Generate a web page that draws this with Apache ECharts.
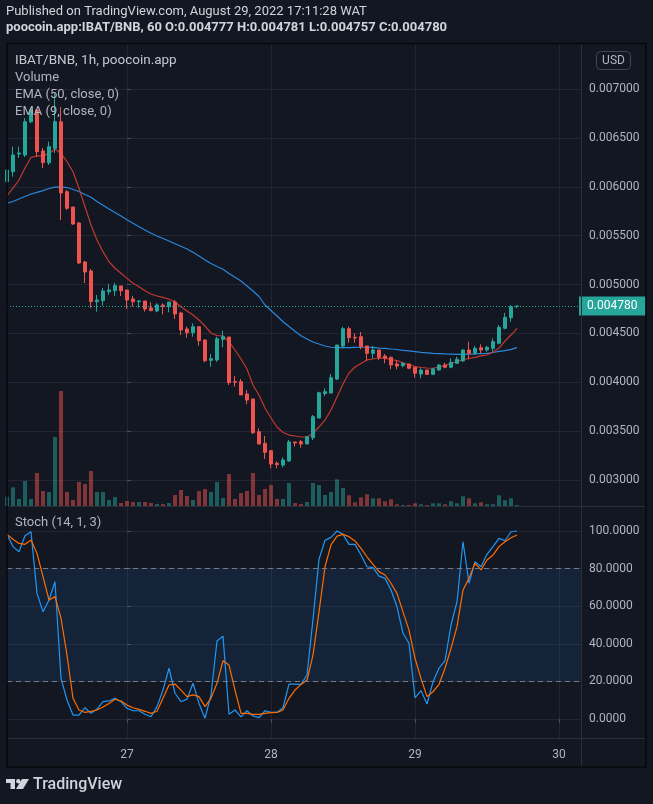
<!DOCTYPE html>
<html><head><meta charset="utf-8">
<script src="https://cdn.jsdelivr.net/npm/echarts@6/dist/echarts.min.js"></script>
<style>html,body{margin:0;padding:0;background:#131722;}#c{width:653px;height:804px;}</style>
</head><body><div id="c"></div>
<script>
// Hours are counted from 2022-08-27 00:00; the first visible candle is 2022-08-26 04:00
const firstHour = -20;
const dayTicks = [0, 24, 48, 72];          // 27, 28, 29, 30 August
const dayLabels = ['27', '28', '29', '30'];
const priceTicks = [0.003, 0.0035, 0.004, 0.0045, 0.005, 0.0055, 0.006, 0.0065, 0.007];
const stochTicks = [0, 20, 40, 60, 80, 100];

const opens = [0.006052,0.006154,0.006335,0.006325,0.006665,0.006785,0.006366,0.006246,0.006393,0.006665,
0.005949,0.005793,0.005629,0.005230,0.005138,0.004824,0.004834,0.004926,0.004937,0.004985,
0.004944,0.004852,0.004824,0.004831,0.004760,0.004729,0.004790,0.004773,0.004821,0.004708,
0.004545,0.004507,0.004568,0.004432,0.004224,0.004228,0.004439,0.004463,0.004006,0.004006,
0.003880,0.003829,0.003494,0.003375,0.003300,0.003171,0.003153,0.003195,0.003389,0.003392,
0.003368,0.003433,0.003634,0.003883,0.003890,0.004033,0.004371,0.004548,0.004460,0.004466,
0.004371,0.004296,0.004330,0.004268,0.004255,0.004187,0.004169,0.004187,0.004153,0.004084,
0.004125,0.004081,0.004125,0.004177,0.004153,0.004194,0.004218,0.004330,0.004296,0.004353,
0.004330,0.004347,0.004399,0.004552,0.004660,0.004777];
const closes = [0.006171,0.006325,0.006345,0.006665,0.006785,0.006359,0.006246,0.006410,0.006665,0.005936,
0.005780,0.005619,0.005220,0.005128,0.004824,0.004841,0.004934,0.004944,0.004988,0.004937,
0.004841,0.004824,0.004831,0.004749,0.004732,0.004790,0.004773,0.004821,0.004698,0.004535,
0.004507,0.004568,0.004425,0.004220,0.004241,0.004445,0.004466,0.003995,0.004000,0.003870,
0.003818,0.003484,0.003368,0.003283,0.003164,0.003157,0.003205,0.003389,0.003379,0.003368,
0.003443,0.003648,0.003893,0.003903,0.004047,0.004381,0.004548,0.004456,0.004453,0.004364,
0.004296,0.004330,0.004255,0.004248,0.004177,0.004166,0.004194,0.004143,0.004092,0.004125,
0.004081,0.004136,0.004177,0.004153,0.004204,0.004235,0.004330,0.004296,0.004347,0.004330,
0.004358,0.004415,0.004562,0.004664,0.004773,0.004780];
const lows = [0.006040,0.006103,0.006294,0.006304,0.006652,0.006307,0.006192,0.006223,0.006345,0.005660,
0.005762,0.005609,0.005210,0.005015,0.004760,0.004722,0.004783,0.004893,0.004885,0.004882,
0.004749,0.004773,0.004763,0.004722,0.004732,0.004716,0.004695,0.004716,0.004647,0.004483,
0.004456,0.004466,0.004374,0.004204,0.004159,0.004210,0.004358,0.003972,0.003955,0.003870,
0.003774,0.003471,0.003368,0.003215,0.003120,0.003120,0.003130,0.003187,0.003341,0.003330,
0.003368,0.003409,0.003634,0.003859,0.003887,0.004023,0.004347,0.004405,0.004405,0.004337,
0.004220,0.004245,0.004228,0.004194,0.004133,0.004133,0.004153,0.004133,0.004047,0.004040,
0.004074,0.004074,0.004118,0.004143,0.004143,0.004187,0.004210,0.004235,0.004279,0.004296,
0.004313,0.004313,0.004388,0.004542,0.004620,0.004757];
const highs = [0.006180,0.006410,0.006410,0.006703,0.006806,0.006790,0.006396,0.006461,0.006949,0.006815,
0.005967,0.005793,0.005640,0.005240,0.005159,0.004893,0.004964,0.005005,0.005018,0.004985,
0.004944,0.004883,0.004841,0.004831,0.004818,0.004808,0.004808,0.004821,0.004841,0.004722,
0.004568,0.004603,0.004568,0.004442,0.004289,0.004466,0.004527,0.004463,0.004064,0.004033,
0.003921,0.003829,0.003529,0.003450,0.003300,0.003191,0.003232,0.003409,0.003389,0.003409,
0.003450,0.003665,0.003903,0.003938,0.004084,0.004381,0.004568,0.004568,0.004501,0.004514,
0.004371,0.004371,0.004330,0.004289,0.004261,0.004220,0.004210,0.004187,0.004153,0.004143,
0.004125,0.004143,0.004187,0.004200,0.004245,0.004261,0.004337,0.004415,0.004371,0.004388,
0.004371,0.004450,0.004586,0.004711,0.004790,0.004781];
const volumes = [9.3,18.7,7,25,7,33,15,14,69,115,
14,6,24,22,35,14,14,6,9,3,
5,4,4,4,3,2,2,3,11,16,
10,6,15,17,14,24,8,32,7,13,
15,33,11,17,21,7,7,23,3,2,
4,23,21,11,14,26.7,18,10.7,3.7,8.7,
11.7,7.7,7.7,4.7,6.7,1.7,1,1,2.7,1.7,
1,2.7,2.7,1.7,4.7,2.7,9.7,7.7,2.7,3.7,
1.7,1.7,10.7,5.7,7.7,1];
const ema50 = [0.005831,0.005849,0.005875,0.005900,0.005926,0.005943,0.005960,0.005982,0.005997,0.005999,
0.005992,0.005972,0.005951,0.005921,0.005892,0.005849,0.005810,0.005772,0.005737,0.005701,
0.005663,0.005626,0.005591,0.005558,0.005524,0.005496,0.005471,0.005445,0.005417,0.005391,
0.005363,0.005329,0.005292,0.005251,0.005215,0.005184,0.005156,0.005113,0.005074,0.005036,
0.004985,0.004934,0.004877,0.004790,0.004734,0.004678,0.004619,0.004570,0.004522,0.004475,
0.004442,0.004412,0.004391,0.004371,0.004358,0.004354,0.004354,0.004354,0.004356,0.004358,
0.004358,0.004356,0.004350,0.004347,0.004340,0.004335,0.004327,0.004320,0.004313,0.004306,
0.004301,0.004296,0.004293,0.004290,0.004288,0.004286,0.004286,0.004288,0.004290,0.004293,
0.004296,0.004304,0.004315,0.004323,0.004337,0.004354];
const ema9 = [0.005908,0.005987,0.006069,0.006192,0.006301,0.006315,0.006315,0.006342,0.006383,0.006342,
0.006256,0.006154,0.005984,0.005796,0.005609,0.005455,0.005336,0.005233,0.005166,0.005115,
0.005063,0.005012,0.004977,0.004937,0.004903,0.004882,0.004869,0.004849,0.004821,0.004773,
0.004729,0.004688,0.004637,0.004575,0.004504,0.004478,0.004473,0.004412,0.004330,0.004238,
0.004136,0.003972,0.003870,0.003737,0.003634,0.003542,0.003486,0.003460,0.003450,0.003440,
0.003440,0.003478,0.003542,0.003614,0.003716,0.003849,0.003982,0.004095,0.004156,0.004192,
0.004228,0.004238,0.004248,0.004245,0.004233,0.004222,0.004197,0.004182,0.004161,0.004151,
0.004146,0.004143,0.004156,0.004171,0.004192,0.004212,0.004230,0.004243,0.004255,0.004269,
0.004279,0.004309,0.004350,0.004422,0.004483,0.004552];
const stochK = [98.2,91.7,89,97.5,99.6,66.8,57,63.3,73,21.6,
10.1,2.1,2.1,6,3,5.3,9.2,9.6,11,9.2,
5.7,4.4,4.4,2.5,1.2,6.6,15.4,27,13.7,9.2,
10.6,19,8.3,0.4,12.8,41.5,44.1,2.5,4.8,1.1,
4.4,1.6,0.7,4.4,3.5,3.5,6,18.6,18.6,18.4,
23.4,53,85,95,96.6,100,98.2,92.9,92.9,87.2,
81,80.5,76,74.8,68.6,59.7,45.6,40.3,11.3,15.1,
8,19.8,27,31,50,62.4,94.3,72.2,83.7,81,
87.6,91.7,96.1,94.8,99.6,100];
const stochD = [98.2,95.6,93.4,92.9,95.2,88.1,75.7,63.3,65.1,53.6,
34,11,4.8,3.5,4.1,4.8,6.4,8.3,10.5,9.6,
7.4,6,5.1,4.1,3,4.1,11,18.1,18.6,15.4,
11.9,12.8,11.9,6.6,11,19,31,28.7,15.4,3,
3,2.5,2.5,3,3.4,3.5,4.8,11,15.4,18.4,
20.7,34,57,81,92.6,97.3,98.2,97,94.7,90.8,
86.3,82.3,78.4,76.6,72.2,66.8,57,47.3,32.3,21.6,
11.9,14.5,18.4,27,37.6,49.1,68.6,74.8,82.8,79.3,
84.6,87.2,91.7,94.3,96.4,97.9];

const UP = '#26a69a', DOWN = '#ef5350';
const hours = opens.map((_, i) => firstHour + i);
const candleData = hours.map((h, i) => [h, opens[i], closes[i], lows[i], highs[i]]);
const volData = hours.map((h, i) => ({
  value: [h, volumes[i]],
  itemStyle: { color: closes[i] >= opens[i] ? 'rgba(38,166,154,0.5)' : 'rgba(239,83,80,0.5)' }
}));
const pair = arr => hours.map((h, i) => [h, arr[i]]);
const lastClose = closes[closes.length - 1];

const FONT = 'Roboto, "Liberation Sans", sans-serif';
const AX = '#b2b5be', GRID = '#232632', SEP = '#2a2e39';

const chart = echarts.init(document.getElementById('c'), null, { renderer: 'canvas' });
const xCommon = {
  type: 'value', min: firstHour, max: firstHour + 574 / 6,
  axisLine: { show: false },
  axisTick: { customValues: dayTicks },
  splitLine: { show: true, lineStyle: { color: GRID, width: 1 } }
};
chart.setOption({
  backgroundColor: '#131722',
  animation: false,
  grid: [
    { left: 7, top: 44, width: 574, height: 462 },
    { left: 7, top: 506, width: 574, height: 232 }
  ],
  xAxis: [
    Object.assign({}, xCommon, { gridIndex: 0, axisLabel: { show: false, customValues: dayTicks },
      axisTick: { show: false, customValues: dayTicks } }),
    Object.assign({}, xCommon, { gridIndex: 1,
      axisTick: { show: true, customValues: dayTicks, length: 4, lineStyle: { color: '#4a4e59' } },
      axisLabel: { show: true, customValues: dayTicks, color: AX, fontSize: 12, fontFamily: FONT, margin: 11,
        formatter: v => dayLabels[dayTicks.indexOf(v)] } })
  ],
  yAxis: [
    { gridIndex: 0, type: 'value', position: 'right', min: 0.0027340, max: 0.0074604,
      axisLine: { show: false },
      axisTick: { show: true, customValues: priceTicks, length: 4, lineStyle: { color: '#4a4e59' } },
      axisLabel: { customValues: priceTicks, formatter: v => v.toFixed(6), color: AX, fontSize: 12, fontFamily: FONT, margin: 8 },
      splitLine: { show: true, lineStyle: { color: GRID } } },
    { gridIndex: 0, type: 'value', min: 0, max: 462, show: false, splitLine: { show: false } },
    { gridIndex: 1, type: 'value', position: 'right', min: -10.1, max: 113.3,
      axisLine: { show: false },
      axisTick: { show: true, customValues: stochTicks, length: 4, lineStyle: { color: '#4a4e59' } },
      axisLabel: { customValues: stochTicks, formatter: v => v.toFixed(4), color: AX, fontSize: 12, fontFamily: FONT, margin: 8 },
      splitLine: { show: true, lineStyle: { color: GRID } } }
  ],
  series: [
    { type: 'bar', name: 'Volume', xAxisIndex: 0, yAxisIndex: 1, data: volData, barWidth: 4, z: 1 },
    { type: 'line', name: 'EMA50', xAxisIndex: 0, yAxisIndex: 0, data: pair(ema50), symbol: 'none',
      lineStyle: { color: '#2a87dc', width: 1.2 }, z: 3,
      markLine: { silent: true, symbol: 'none', animation: false, precision: 6,
        lineStyle: { type: [1, 2], color: UP, width: 1 },
        label: { show: true, position: 'end', distance: -2, formatter: () => lastClose.toFixed(6),
          backgroundColor: UP, color: '#ffffff', fontSize: 12, fontFamily: FONT, padding: [4, 8, 3, 8] },
        data: [{ yAxis: lastClose }] } },
    { type: 'line', name: 'EMA9', xAxisIndex: 0, yAxisIndex: 0, data: pair(ema9), symbol: 'none',
      lineStyle: { color: '#c4392f', width: 1.2 }, z: 3 },
    { type: 'candlestick', name: 'IBAT/BNB', xAxisIndex: 0, yAxisIndex: 0, data: candleData,
      encode: { x: 0, y: [1, 2, 3, 4] }, barWidth: 3.4, z: 4,
      itemStyle: { color: UP, color0: DOWN, borderColor: UP, borderColor0: DOWN, borderWidth: 1 } },
    { type: 'line', name: '%K', xAxisIndex: 1, yAxisIndex: 2, data: pair(stochK), symbol: 'none',
      lineStyle: { color: '#2196f3', width: 1.2 }, z: 3,
      markArea: { silent: true, itemStyle: { color: 'rgba(33,150,243,0.1)' }, data: [[{ yAxis: 20 }, { yAxis: 80 }]] },
      markLine: { silent: true, symbol: 'none', label: { show: false },
        lineStyle: { type: [5, 4], color: '#787b86', width: 1 }, data: [{ yAxis: 80 }, { yAxis: 20 }] } },
    { type: 'line', name: '%D', xAxisIndex: 1, yAxisIndex: 2, data: pair(stochD), symbol: 'none',
      lineStyle: { color: '#ff6d00', width: 1.2 }, z: 3 }
  ],
  graphic: [
    { type: 'text', left: 6, top: 5, style: { text: 'Published on TradingView.com, August 29, 2022 17:11:28 WAT', fill: '#d1d4dc', font: '13px ' + FONT } },
    { type: 'text', left: 6, top: 21, style: { text: 'poocoin.app:IBAT/BNB, 60 O:0.004777 H:0.004781 L:0.004757 C:0.004780', fill: '#d1d4dc', font: 'bold 13px ' + FONT } },
    { type: 'rect', shape: { x: 7, y: 43.5, width: 639, height: 723.5 }, style: { fill: 'none', stroke: '#07080c', lineWidth: 1.5 }, z: 100, silent: true },
    { type: 'line', shape: { x1: 581.5, y1: 44, x2: 581.5, y2: 767 }, style: { stroke: SEP, lineWidth: 1 }, z: 90 },
    { type: 'line', shape: { x1: 7, y1: 506.5, x2: 646, y2: 506.5 }, style: { stroke: SEP, lineWidth: 1 }, z: 90 },
    { type: 'line', shape: { x1: 7, y1: 738.5, x2: 646, y2: 738.5 }, style: { stroke: SEP, lineWidth: 1 }, z: 90 },
    { type: 'rect', shape: { x: 596.5, y: 51.5, width: 34, height: 18, r: 4 }, style: { fill: '#131722', stroke: '#434651', lineWidth: 1 }, z: 90 },
    { type: 'text', x: 613.5, y: 60.5, style: { text: 'USD', fill: AX, font: '12px ' + FONT, textAlign: 'center', textVerticalAlign: 'middle' }, z: 91 },
    { type: 'text', x: 15, y: 61, style: { text: 'IBAT/BNB, 1h, poocoin.app', fill: '#c3c6cf', font: '13.5px ' + FONT, textVerticalAlign: 'middle' }, z: 91 },
    { type: 'text', x: 15, y: 78, style: { text: 'Volume', fill: AX, font: '13px ' + FONT, textVerticalAlign: 'middle' }, z: 91 },
    { type: 'text', x: 15, y: 95, style: { text: 'EMA (50, close, 0)', fill: AX, font: '13px ' + FONT, textVerticalAlign: 'middle' }, z: 91 },
    { type: 'text', x: 15, y: 112, style: { text: 'EMA (9, close, 0)', fill: AX, font: '13px ' + FONT, textVerticalAlign: 'middle' }, z: 91 },
    { type: 'text', x: 15, y: 523, style: { text: 'Stoch (14, 1, 3)', fill: AX, font: '13px ' + FONT, textVerticalAlign: 'middle' }, z: 91 },
    { type: 'polygon', shape: { points: [[6, 779], [15, 779], [15, 789], [10.5, 789], [10.5, 783], [6, 783]] }, style: { fill: '#d1d4dc' }, z: 91 },
    { type: 'circle', shape: { cx: 18.3, cy: 781.2, r: 2.2 }, style: { fill: '#d1d4dc' }, z: 91 },
    { type: 'polygon', shape: { points: [[22, 779], [29, 779], [23, 789], [16, 789]] }, style: { fill: '#d1d4dc' }, z: 91 },
    { type: 'text', x: 33, y: 784.5, style: { text: 'TradingView', fill: '#d1d4dc', font: '500 16px ' + FONT, textVerticalAlign: 'middle' }, z: 91 }
  ]
});
</script>
</body></html>
